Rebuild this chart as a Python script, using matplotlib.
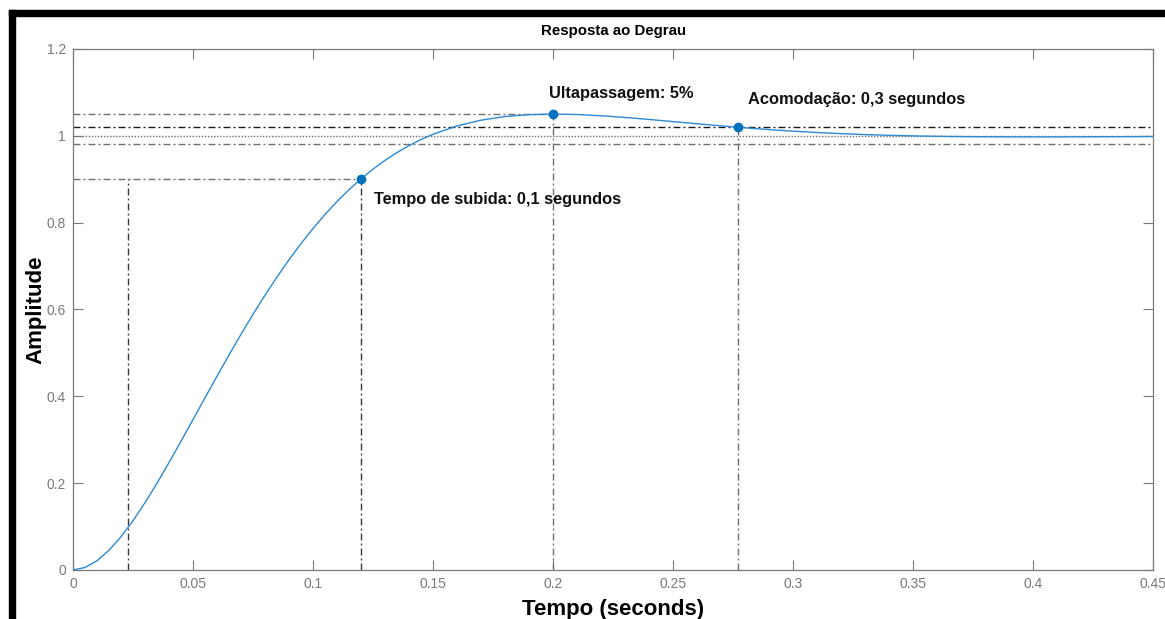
import matplotlib
matplotlib.use("Agg")
import matplotlib.pyplot as plt
from matplotlib.patches import Rectangle

plt.rcParams['font.family'] = ['Liberation Sans', 'DejaVu Sans']
plt.rcParams['lines.scale_dashes'] = False

# resposta ao degrau
tempo = [0.0, 0.005, 0.01, 0.015, 0.02, 0.025, 0.03, 0.035, 0.04, 0.045,
         0.05, 0.055, 0.06, 0.065, 0.07, 0.075, 0.08, 0.085, 0.09, 0.095,
         0.1, 0.105, 0.11, 0.115, 0.12, 0.125, 0.13, 0.135, 0.14, 0.145,
         0.15, 0.16, 0.17, 0.18, 0.19, 0.2, 0.21, 0.22, 0.23, 0.24,
         0.25, 0.26, 0.27, 0.28, 0.29, 0.3, 0.31, 0.32, 0.33, 0.34,
         0.35, 0.36, 0.37, 0.38, 0.39, 0.4, 0.41, 0.42, 0.43, 0.44, 0.45]
amplitude = [0.0, 0.0057, 0.0213, 0.0454, 0.0767, 0.1136, 0.1552, 0.2000, 0.2476, 0.2966,
             0.3466, 0.3967, 0.4464, 0.4953, 0.5429, 0.5889, 0.6329, 0.6749, 0.7146, 0.7518,
             0.7866, 0.8190, 0.8487, 0.8760, 0.9008, 0.9233, 0.9435, 0.9615, 0.9774, 0.9914,
             1.0035, 1.0227, 1.0360, 1.0444, 1.0488, 1.0501, 1.0490, 1.0462, 1.0423, 1.0377,
             1.0327, 1.0277, 1.0229, 1.0184, 1.0143, 1.0107, 1.0076, 1.0050, 1.0028, 1.0011,
             0.9998, 0.9989, 0.9982, 0.9978, 0.9976, 0.9975, 0.9975, 0.9977, 0.9979, 0.9981, 0.9984]

# características
t_subida_ini = 0.023
t_subida_fim = 0.12
nivel_subida = 0.9
t_pico = 0.2
amp_pico = 1.05
t_acomod = 0.277
amp_acomod = 1.02
banda_sup = 1.02
banda_inf = 0.98
regime = 1.0

x_ticks = [0, 0.05, 0.1, 0.15, 0.2, 0.25, 0.3, 0.35, 0.4, 0.45]
y_ticks = [0, 0.2, 0.4, 0.6, 0.8, 1.0, 1.2]

azul = '#0072BD'
azul_linha = '#2b8ad4'
cinza = '#6f6f6f'
tracejado = (0, (5, 2.2, 1.4, 2.2))

fig = plt.figure(figsize=(11.65, 6.19), dpi=100)
ax = fig.add_axes([0.0627, 0.0792, 0.9270, 0.8417])

xmax = 0.45
# linhas de referência
ax.plot([0, t_pico], [amp_pico, amp_pico], color=cinza, lw=1, linestyle=tracejado)
ax.plot([t_pico, t_pico], [0, amp_pico], color=cinza, lw=1, linestyle=tracejado)
ax.plot([0, xmax], [banda_sup, banda_sup], color='#1a1a1a', lw=1, linestyle=tracejado)
ax.plot([0, xmax], [banda_inf, banda_inf], color=cinza, lw=1, linestyle=tracejado)
ax.plot([0, xmax], [regime, regime], color=cinza, lw=1, linestyle=(0, (1, 1.2)))
ax.plot([t_acomod, t_acomod], [0, amp_acomod], color=cinza, lw=1, linestyle=tracejado)
ax.plot([0, t_subida_fim], [nivel_subida, nivel_subida], color=cinza, lw=1, linestyle=tracejado)
ax.plot([t_subida_ini, t_subida_ini], [0, nivel_subida], color='#3a3a3a', lw=1, linestyle=tracejado)
ax.plot([t_subida_fim, t_subida_fim], [0, nivel_subida], color='#3a3a3a', lw=1, linestyle=tracejado)

ax.plot(tempo, amplitude, color=azul_linha, lw=1.0, zorder=5)
ax.plot([t_subida_fim, t_pico, t_acomod], [nivel_subida, amp_pico, amp_acomod],
        'o', color=azul, markersize=6, zorder=6)

kw = dict(fontsize=11.8, fontweight='bold', va='center', color='#111111')
ax.text(0.1983, 1.097, 'Ultapassagem: 5%', **kw)
ax.text(0.2812, 1.083, 'Acomodação: 0,3 segundos', **kw)
ax.text(0.1254, 0.854, 'Tempo de subida: 0,1 segundos', **kw)

ax.set_xlim(0, xmax)
ax.set_ylim(0, 1.2)
ax.set_xticks(x_ticks)
ax.set_xticklabels(['0', '0.05', '0.1', '0.15', '0.2', '0.25', '0.3', '0.35', '0.4', '0.45'])
ax.set_yticks(y_ticks)
ax.set_yticklabels(['0', '0.2', '0.4', '0.6', '0.8', '1', '1.2'])
ax.tick_params(direction='in', top=True, right=True, length=7, width=0.8,
               color='#7a7a7a', labelcolor='#7a7a7a', labelsize=10, pad=5)
for s in ax.spines.values():
    s.set_color('#7a7a7a')
    s.set_linewidth(0.9)

ax.set_title('Resposta ao Degrau', fontsize=10.8, fontweight='bold', pad=10)
ax.set_xlabel('Tempo (seconds)', fontsize=16, fontweight='bold', labelpad=6)
ax.set_ylabel('Amplitude', fontsize=16, fontweight='bold', labelpad=0)

# moldura preta (topo e lado esquerdo)
fig.patches.append(Rectangle((9 / 1165, (619 - 16) / 619), 1, 6 / 619,
                             transform=fig.transFigure, color='black', zorder=10))
fig.patches.append(Rectangle((9 / 1165, 0), 6 / 1165, (619 - 10) / 619,
                             transform=fig.transFigure, color='black', zorder=10))

fig.savefig('out.png', dpi=100)
